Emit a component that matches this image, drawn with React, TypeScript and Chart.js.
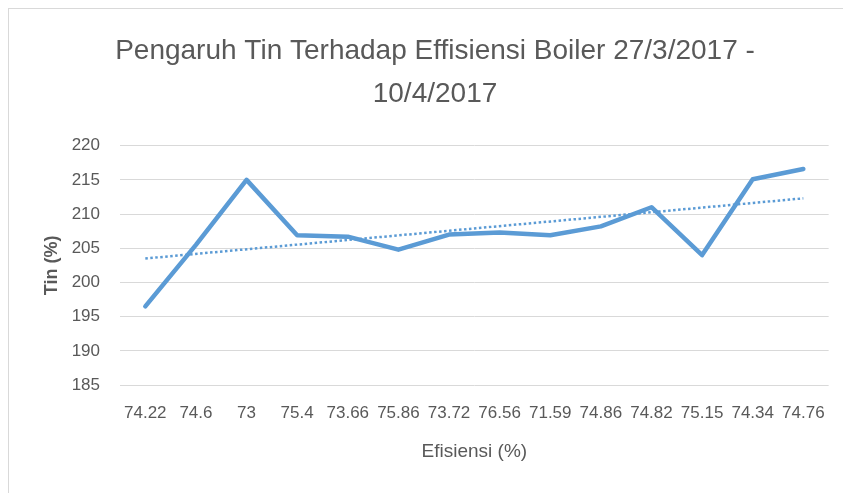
import React, { useEffect, useRef } from "react";
import { Chart, registerables } from "chart.js";

Chart.register(...registerables);

const categories = ["74.22", "74.6", "73", "75.4", "73.66", "75.86", "73.72", "76.56", "71.59", "74.86", "74.82", "75.15", "74.34", "74.76"];
const tinValues = [196.5, 205.5, 215.0, 206.9, 206.7, 204.8, 207.0, 207.3, 206.9, 208.2, 211.0, 204.0, 215.1, 216.6];
// Linear trendline end points
const trendStart = 203.5;
const trendEnd = 212.3;
const yTicks = [185, 190, 195, 200, 205, 210, 215, 220];
const titleLines = ["Pengaruh Tin Terhadap Effisiensi Boiler 27/3/2017 -", "10/4/2017"];
const yTitle = "Tin (%)";
const xTitle = "Efisiensi (%)";

const BLUE = "#5B9BD5";
const TEXT = "#595959";
const GRID = "#D9D9D9";
const FONT = "'Liberation Sans', Arial, sans-serif";

export default function App() {
  const ref = useRef<HTMLCanvasElement | null>(null);

  useEffect(() => {
    if (!ref.current) return;
    const chart = new Chart(ref.current, {
      type: "line",
      data: {
        labels: categories,
        datasets: [
          {
            label: "Tin",
            data: tinValues,
            borderColor: BLUE,
            backgroundColor: BLUE,
            borderWidth: 4.5,
            pointRadius: 0,
            tension: 0,
            borderJoinStyle: "round",
            borderCapStyle: "round",
            fill: false,
          },
          {
            label: "Trend",
            data: [
              { x: categories[0], y: trendStart },
              { x: categories[categories.length - 1], y: trendEnd },
            ] as any,
            borderColor: BLUE,
            borderWidth: 2.5,
            borderDash: [2.5, 2.5],
            borderCapStyle: "butt",
            pointRadius: 0,
            tension: 0,
            fill: false,
          },
        ],
      },
      options: {
        responsive: false,
        animation: false,
        layout: { padding: { left: 38, right: 11, top: 0, bottom: 0 } },
        plugins: {
          legend: { display: false },
          tooltip: { enabled: false },
          title: {
            display: true,
            text: titleLines,
            color: TEXT,
            font: { family: FONT, size: 28, weight: "normal", lineHeight: "43px" },
            padding: { top: 29.5, bottom: 30.2 },
          },
        },
        scales: {
          x: {
            offset: true,
            grid: { display: false, drawTicks: false, offset: true },
            border: { display: false },
            ticks: {
              color: TEXT,
              font: { family: FONT, size: 17 },
              autoSkip: false,
              maxRotation: 0,
              minRotation: 0,
              padding: 18,
            },
            title: {
              display: true,
              text: xTitle,
              color: TEXT,
              font: { family: FONT, size: 19 },
              padding: { top: 0, bottom: 29.6 },
            },
            afterFit: (scale: any) => {
              scale.height = 108;
            },
          },
          y: {
            min: 185,
            max: 220,
            afterBuildTicks: (scale: any) => {
              scale.ticks = yTicks.map((v) => ({ value: v }));
            },
            grid: { color: GRID, lineWidth: 1, drawTicks: false },
            border: { display: false },
            ticks: {
              color: TEXT,
              font: { family: FONT, size: 17 },
              padding: 20,
            },
            title: {
              display: true,
              text: yTitle,
              color: TEXT,
              font: { family: FONT, size: 18, weight: "bold" },
              padding: { top: 3, bottom: 0 },
            },
            afterFit: (scale: any) => {
              scale.width = 82;
            },
          },
        },
      },
    });
    return () => chart.destroy();
  }, []);

  return (
    <div style={{ position: "fixed", left: 0, top: 0, width: 843, height: 493, background: "#fff", overflow: "hidden" }}>
      <div
        style={{
          position: "absolute",
          left: 8,
          top: 8,
          width: 1000,
          height: 700,
          borderLeft: "1px solid #D9D9D9",
          borderTop: "1px solid #D9D9D9",
        }}
      />
      <canvas ref={ref} width={843} height={493} style={{ position: "absolute", left: 0, top: 0, width: 843, height: 493 }} />
    </div>
  );
}
